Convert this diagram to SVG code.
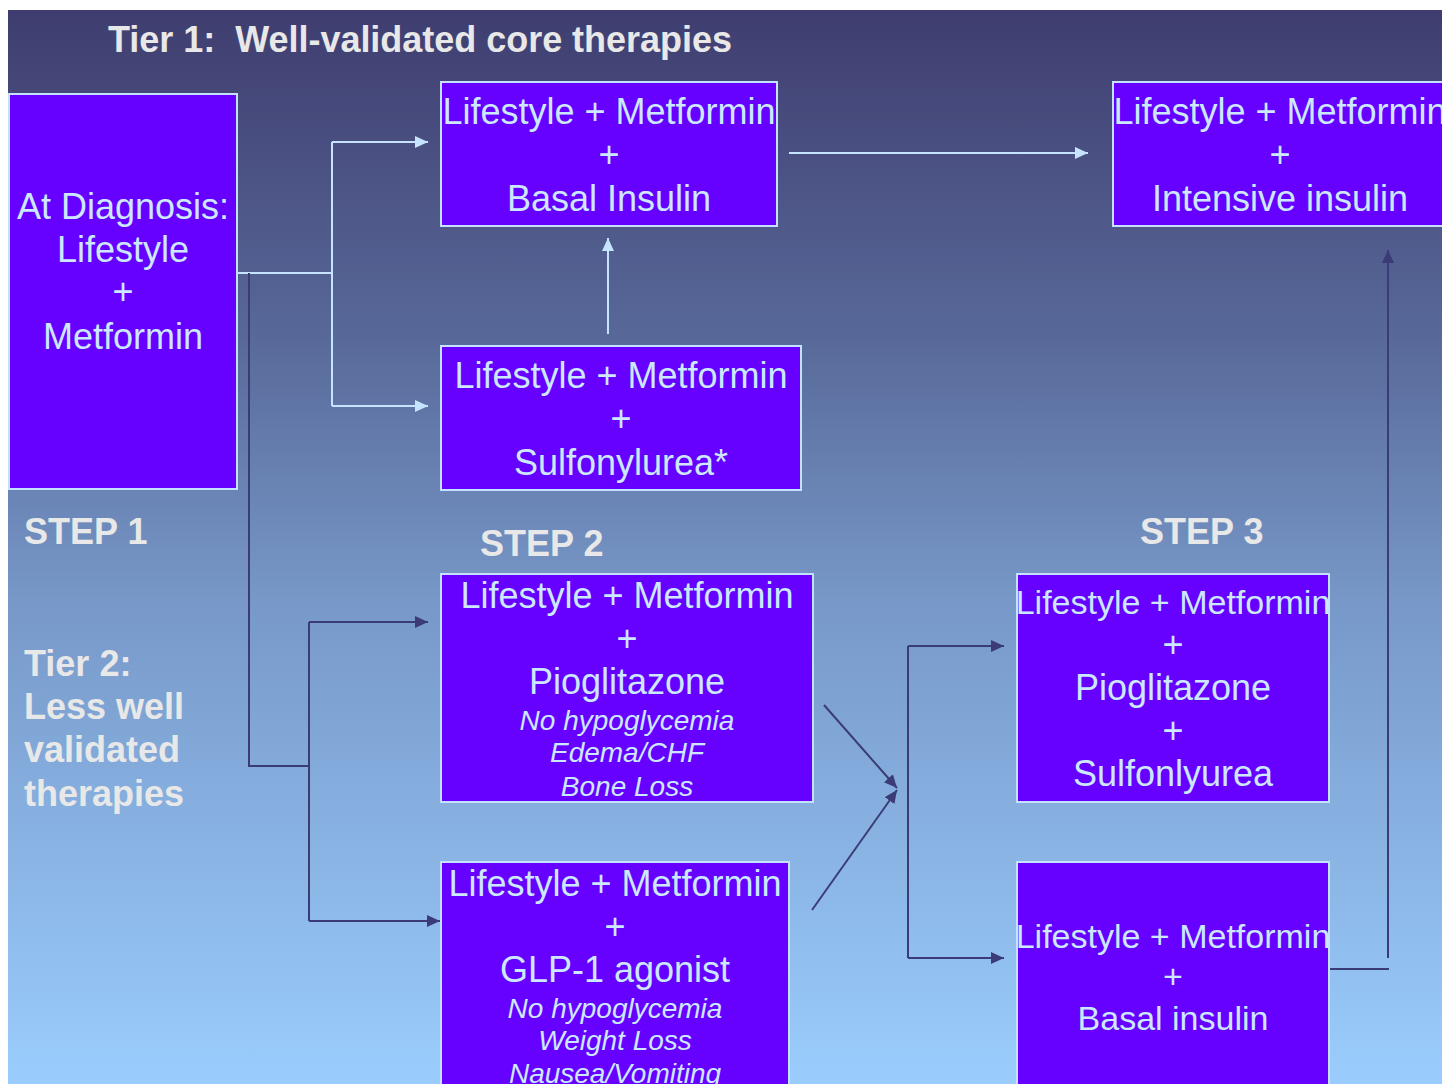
<svg xmlns="http://www.w3.org/2000/svg" width="1442" height="1084" viewBox="0 0 1442 1084">
<defs>
<linearGradient id="bg" x1="0" y1="0" x2="0" y2="1">
<stop offset="0" stop-color="#3f3d6f"/>
<stop offset="0.3" stop-color="#576898"/>
<stop offset="0.55" stop-color="#7798c8"/>
<stop offset="1" stop-color="#9acdfd"/>
</linearGradient>
<marker id="aL" markerUnits="userSpaceOnUse" markerWidth="14" markerHeight="12" refX="13" refY="6" orient="auto"><path d="M0,0 L13,6 L0,12 Z" fill="#c6e4ff"/></marker>
<marker id="aD" markerUnits="userSpaceOnUse" markerWidth="14" markerHeight="12" refX="13" refY="6" orient="auto"><path d="M0,0 L13,6 L0,12 Z" fill="#3b3b78"/></marker>
</defs>
<style>
.box{fill:#6600ff;stroke:#c4e2ff;stroke-width:2}
.t{font-family:"Liberation Sans",Arial,sans-serif;font-size:36px;fill:#cce8ff;text-anchor:middle}
.s{font-size:34px}
.i{font-family:"Liberation Sans",Arial,sans-serif;font-size:28px;font-style:italic;fill:#cce8ff;text-anchor:middle}
.h{font-family:"Liberation Sans",Arial,sans-serif;font-size:36px;font-weight:bold;fill:#e8e8e8}
.cl{fill:none;stroke:#c6e4ff;stroke-width:2}
.cd{fill:none;stroke:#3b3b78;stroke-width:2}
</style>
<rect x="0" y="0" width="1442" height="1084" fill="#ffffff"/>
<rect x="8" y="10" width="1434" height="1074" fill="url(#bg)"/>
<g id="labels">
<text class="h" x="108" y="52" textLength="624" lengthAdjust="spacing" style="white-space:pre">Tier 1:  Well-validated core therapies</text>
<text class="h" x="24" y="544">STEP 1</text>
<text class="h" x="480" y="556">STEP 2</text>
<text class="h" x="1140" y="544">STEP 3</text>
<text class="h" x="24" y="676">Tier 2:</text>
<text class="h" x="24" y="719">Less well</text>
<text class="h" x="24" y="762">validated</text>
<text class="h" x="24" y="806">therapies</text>
</g>
<g id="connectors">
<path class="cl" d="M237,273 H332 M332,142 V406"/>
<path class="cl" d="M332,142 H428" marker-end="url(#aL)"/>
<path class="cl" d="M332,406 H428" marker-end="url(#aL)"/>
<path class="cl" d="M608,334 V238" marker-end="url(#aL)"/>
<path class="cl" d="M789,153 H1088" marker-end="url(#aL)"/>
<path class="cd" d="M249,273 V766 H309 M309,622 V921"/>
<path class="cd" d="M309,622 H428" marker-end="url(#aD)"/>
<path class="cd" d="M309,921 H440" marker-end="url(#aD)"/>
<path class="cd" d="M824,705 L897,788" marker-end="url(#aD)"/>
<path class="cd" d="M812,910 L897,790" marker-end="url(#aD)"/>
<path class="cd" d="M908,646 V958"/>
<path class="cd" d="M908,646 H1004" marker-end="url(#aD)"/>
<path class="cd" d="M908,958 H1004" marker-end="url(#aD)"/>
<path class="cd" d="M1330,969 H1389"/>
<path class="cd" d="M1388,958 V250" marker-end="url(#aD)"/>
</g>
<g id="n-diagnosis">
<rect class="box" x="9" y="94" width="228" height="395"/>
<text class="t" x="123" y="219">At Diagnosis:</text>
<text class="t" x="123" y="262">Lifestyle</text>
<text class="t" x="123" y="304">+</text>
<text class="t" x="123" y="349">Metformin</text>
</g>
<g id="n-basal">
<rect class="box" x="441" y="82" width="336" height="144"/>
<text class="t" x="609" y="124">Lifestyle + Metformin</text>
<text class="t" x="609" y="167">+</text>
<text class="t" x="609" y="211">Basal Insulin</text>
</g>
<g id="n-intensive">
<rect class="box" x="1113" y="82" width="336" height="144"/>
<text class="t" x="1280" y="124">Lifestyle + Metformin</text>
<text class="t" x="1280" y="167">+</text>
<text class="t" x="1280" y="211">Intensive insulin</text>
</g>
<g id="n-su">
<rect class="box" x="441" y="346" width="360" height="144"/>
<text class="t" x="621" y="388">Lifestyle + Metformin</text>
<text class="t" x="621" y="431">+</text>
<text class="t" x="621" y="475">Sulfonylurea*</text>
</g>
<g id="n-pio">
<rect class="box" x="441" y="574" width="372" height="228"/>
<text class="t" x="627" y="608">Lifestyle + Metformin</text>
<text class="t" x="627" y="651">+</text>
<text class="t" x="627" y="694">Pioglitazone</text>
<text class="i" x="627" y="730">No hypoglycemia</text>
<text class="i" x="627" y="762">Edema/CHF</text>
<text class="i" x="627" y="796">Bone Loss</text>
</g>
<g id="n-glp">
<rect class="box" x="441" y="862" width="348" height="240"/>
<text class="t" x="615" y="896">Lifestyle + Metformin</text>
<text class="t" x="615" y="939">+</text>
<text class="t" x="615" y="982">GLP-1 agonist</text>
<text class="i" x="615" y="1018">No hypoglycemia</text>
<text class="i" x="615" y="1050">Weight Loss</text>
<text class="i" x="615" y="1083">Nausea/Vomiting</text>
</g>
<g id="n-piosu">
<rect class="box" x="1017" y="574" width="312" height="228"/>
<text class="t s" x="1173" y="614">Lifestyle + Metformin</text>
<text class="t" x="1173" y="657">+</text>
<text class="t" x="1173" y="700">Pioglitazone</text>
<text class="t" x="1173" y="743">+</text>
<text class="t" x="1173" y="786">Sulfonlyurea</text>
</g>
<g id="n-basal3">
<rect class="box" x="1017" y="862" width="312" height="240"/>
<text class="t s" x="1173" y="948">Lifestyle + Metformin</text>
<text class="t s" x="1173" y="988">+</text>
<text class="t s" x="1173" y="1030">Basal insulin</text>
</g>
</svg>
